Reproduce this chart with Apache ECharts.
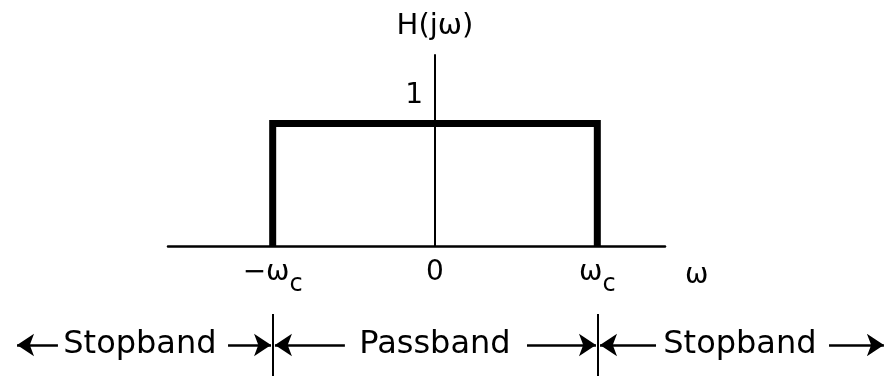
<!DOCTYPE html>
<html>
<head>
<meta charset="utf-8">
<script src="https://cdn.jsdelivr.net/npm/echarts@6/dist/echarts.min.js"></script>
<style>
	html, body { margin: 0; padding: 0; background: #fff; }
	#main { width: 886px; height: 376px; }
</style>
</head>
<body>
<div id="main"></div>
<script>
var responseX = [-1, -1, 1, 1]; //H(jw) corner points, w in units of wc
var responseY = [0, 1, 1, 0];
var xTickValues = [-1, 0, 1];
var xTickLabels = ['{t|−ω}{c|c}', '{t|0}', '{t|ω}{c|c}'];
var yTickValues = [1];
var yTickLabels = ['1'];
var bandEdges = [-1, 1]; //separator lines under the axis
var bandNames = ['Stopband', 'Passband', 'Stopband'];
var bandCenters = [-1.818, 0, 1.879];
var arrowTails = [-2.323, -1.275, -0.555, 0.567, 1.362, 2.428];
var arrowHeads = [-2.575, -1.01, -0.986, 0.992, 1.017, 2.766];

var font = 'DejaVu Sans';
var chart = echarts.init(document.getElementById('main'));

var responseData = [];
for(var i = 0; i < responseX.length; i++) {
	responseData.push([responseX[i], responseY[i]]);
}
var edgeData = [];
for(var i = 0; i < bandEdges.length; i++) {
	edgeData.push({ coords: [[bandEdges[i], -1], [bandEdges[i], 1]] });
}
var arrowData = [];
for(var i = 0; i < arrowTails.length; i++) {
	arrowData.push({ coords: [[arrowTails[i], 0], [arrowHeads[i], 0]] });
}
var bandData = [];
for(var i = 0; i < bandNames.length; i++) {
	bandData.push({ name: bandNames[i], value: [bandCenters[i], 0] });
}

var option = {
	animation: false,
	backgroundColor: '#fff',
	textStyle: { fontFamily: font, color: '#000' },
	grid: [
		{ left: 168, right: 221, top: 55, bottom: 130 },
		{ left: 0, right: 0, top: 314, bottom: 0 }
	],
	xAxis: [{
		type: 'value',
		gridIndex: 0,
		min: -1.645,
		max: 1.417,
		name: 'ω',
		nameLocation: 'end',
		nameGap: 20,
		nameTextStyle: { fontFamily: font, fontSize: 28, color: '#000', verticalAlign: 'top', padding: [16, 0, 0, 0] },
		axisLine: { show: true, onZero: false, lineStyle: { color: '#000', width: 2.5 } },
		axisTick: { show: false },
		splitLine: { show: false },
		axisLabel: {
			customValues: xTickValues,
			margin: 13,
			color: '#000',
			formatter: function(v) {
				return xTickLabels[xTickValues.indexOf(v)];
			},
			rich: {
				t: { fontFamily: font, fontSize: 28, color: '#000', verticalAlign: 'top' },
				c: { fontFamily: font, fontSize: 24, color: '#000', padding: [14, 0, 0, 0], verticalAlign: 'bottom' }
			}
		}
	}, {
		type: 'value',
		gridIndex: 1,
		min: -2.68,
		max: 2.779,
		show: false
	}],
	yAxis: [{
		type: 'value',
		gridIndex: 0,
		min: 0,
		max: 1.56,
		offset: -267, //put the H axis at w = 0
		name: 'H(jω)',
		nameLocation: 'end',
		nameGap: 14,
		nameTextStyle: { fontFamily: font, fontSize: 29, color: '#000' },
		axisLine: { show: true, onZero: false, lineStyle: { color: '#000', width: 2 } },
		axisTick: { show: false },
		splitLine: { show: false },
		axisLabel: {
			customValues: yTickValues,
			margin: 12,
			color: '#000',
			fontFamily: font,
			fontSize: 28,
			verticalAlign: 'bottom',
			padding: [0, 0, 14, 0],
			formatter: function(v) {
				return yTickLabels[yTickValues.indexOf(v)];
			}
		}
	}, {
		type: 'value',
		gridIndex: 1,
		min: -1,
		max: 1,
		show: false
	}],
	series: [{
		type: 'line',
		xAxisIndex: 0,
		yAxisIndex: 0,
		data: responseData,
		showSymbol: false,
		symbol: 'none',
		clip: false,
		lineStyle: { color: '#000', width: 7, join: 'miter' },
		z: 3
	}, {
		type: 'lines',
		coordinateSystem: 'cartesian2d',
		xAxisIndex: 1,
		yAxisIndex: 1,
		data: edgeData,
		symbol: 'none',
		silent: true,
		lineStyle: { color: '#000', width: 2, opacity: 1 }
	}, {
		type: 'lines',
		coordinateSystem: 'cartesian2d',
		xAxisIndex: 1,
		yAxisIndex: 1,
		data: arrowData,
		symbol: ['none', 'arrow'],
		symbolSize: [11, 17],
		silent: true,
		lineStyle: { color: '#000', width: 2.5, opacity: 1 }
	}, {
		type: 'scatter',
		xAxisIndex: 1,
		yAxisIndex: 1,
		data: bandData,
		symbolSize: 0,
		silent: true,
		itemStyle: { opacity: 1 },
		label: {
			show: true,
			position: 'inside',
			formatter: '{b}',
			color: '#000',
			fontFamily: font,
			fontSize: 32
		}
	}]
};
chart.setOption(option);
</script>
</body>
</html>
